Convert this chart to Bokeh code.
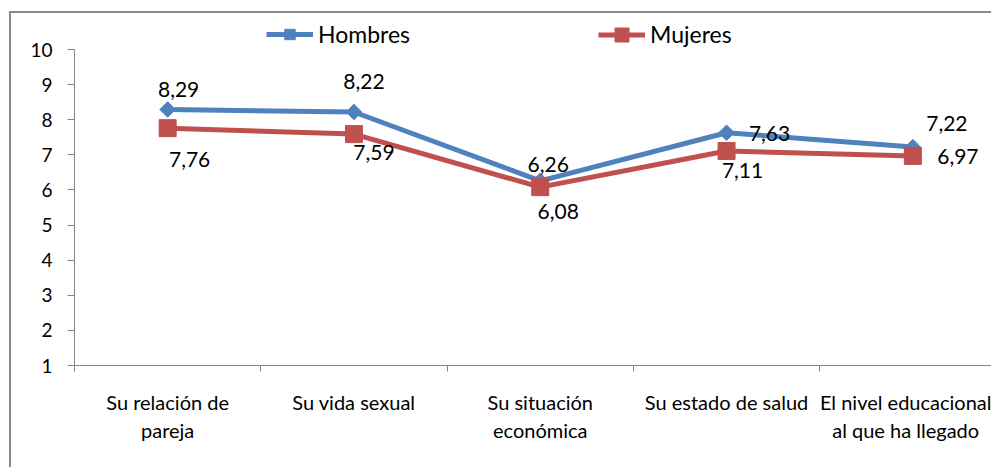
import numpy as np
from bokeh.plotting import figure
from bokeh.models import (FixedTicker, Legend, LegendItem, Range1d)
from bokeh.embed import file_html
from bokeh.resources import INLINE
from bokeh.core.properties import value

categories = ["Su relación de\npareja", "Su vida sexual", "Su situación\neconómica",
              "Su estado de salud", "El nivel educacional\nal que ha llegado"]
hombres = [8.29, 8.22, 6.26, 7.63, 7.22]
mujeres = [7.76, 7.59, 6.08, 7.11, 6.97]
y_ticks = [1, 2, 3, 4, 5, 6, 7, 8, 9, 10]

# label offsets in screen pixels (style, not data)
h_dx = [11, 10, 8, 43, 34]
h_dy = [-20, -30, -16, 1, -24]
m_dx = [22, 20, 18, 16, 45]
m_dy = [31, 18, 24, 20, 1]

FONT = "Lato"
BLUE = "#4F81BD"
RED = "#C0504D"
AXIS = "#868686"

x = list(range(len(categories)))
CAT_W = 186.3
PX_PER_UNIT = 35.11
W, H = 982, 456
LEFT = 63
FRAME_H = 352
TOP_EXTRA = 36  # pixels of frame above value 10 (room for legend)

p = figure(width=W, height=H, output_backend="svg", toolbar_location=None,
           x_range=Range1d(-0.5, -0.5 + (W - LEFT) / CAT_W),
           y_range=Range1d(y_ticks[0], y_ticks[-1] + TOP_EXTRA / PX_PER_UNIT),
           min_border_left=LEFT, min_border_right=0, min_border_top=0,
           min_border_bottom=H - FRAME_H, outline_line_color=None,
           styles={"margin-left": "9px", "margin-top": "11px",
                   "border-left": "2px solid #8a8a8a",
                   "border-top": "2px solid #8a8a8a"})
p.xgrid.visible = False
p.ygrid.visible = False

# y axis
ya = p.yaxis[0]
ya.ticker = FixedTicker(ticks=y_ticks)
ya.bounds = (y_ticks[0], y_ticks[-1])
ya.axis_line_color = AXIS
ya.major_tick_line_color = AXIS
ya.major_tick_in = 0
ya.major_tick_out = 7
ya.minor_tick_line_color = None
ya.major_label_text_font = FONT
ya.major_label_text_font_size = "19px"
ya.major_label_text_color = "black"
ya.major_label_standoff = 15

# x axis
xa = p.xaxis[0]
xa.ticker = FixedTicker(ticks=x, minor_ticks=[i - 0.5 for i in range(len(categories) + 1)])
xa.major_label_overrides = {i: c for i, c in zip(x, categories)}
xa.axis_line_color = AXIS
xa.major_tick_line_color = None
xa.major_tick_in = 0
xa.major_tick_out = 0
xa.minor_tick_line_color = AXIS
xa.minor_tick_in = 0
xa.minor_tick_out = 6
xa.major_label_text_font = FONT
xa.major_label_text_font_size = "20px"
xa.major_label_text_color = "black"
xa.major_label_standoff = 18

lh = p.line(x, hombres, line_color=BLUE, line_width=5)
sh = p.scatter(x, hombres, marker="square", angle=np.pi / 4, size=11,
               fill_color=BLUE, line_color=BLUE)
lm = p.line(x, mujeres, line_color=RED, line_width=5)
sm = p.scatter(x, mujeres, marker="square", size=17, fill_color=RED, line_color=RED)

fmt = lambda v: f"{v:.2f}".replace(".", ",")
p.text(x=x, y=hombres, text=[fmt(v) for v in hombres], x_offset=h_dx, y_offset=h_dy,
       text_align="center", text_baseline="middle", text_font=value(FONT),
       text_font_size="21px", text_color="black")
p.text(x=x, y=mujeres, text=[fmt(v) for v in mujeres], x_offset=m_dx, y_offset=m_dy,
       text_align="center", text_baseline="middle", text_font=value(FONT),
       text_font_size="21px", text_color="black")

def mk_legend(label, rends, xloc, gh):
    h = max(gh, 28)
    return Legend(items=[LegendItem(label=label, renderers=rends)],
                  location=(xloc, 331 - h / 2), orientation="horizontal",
                  glyph_width=47, glyph_height=gh, label_standoff=5,
                  padding=0, margin=0, border_line_color=None,
                  background_fill_alpha=0, label_text_font=FONT,
                  label_text_font_size="23px", label_text_color="black")

p.add_layout(mk_legend("Hombres", [lh, sh], 192, 26))
p.add_layout(mk_legend("Mujeres", [lm, sm], 524, 35))

open("out.html", "w").write(file_html(p, INLINE))
